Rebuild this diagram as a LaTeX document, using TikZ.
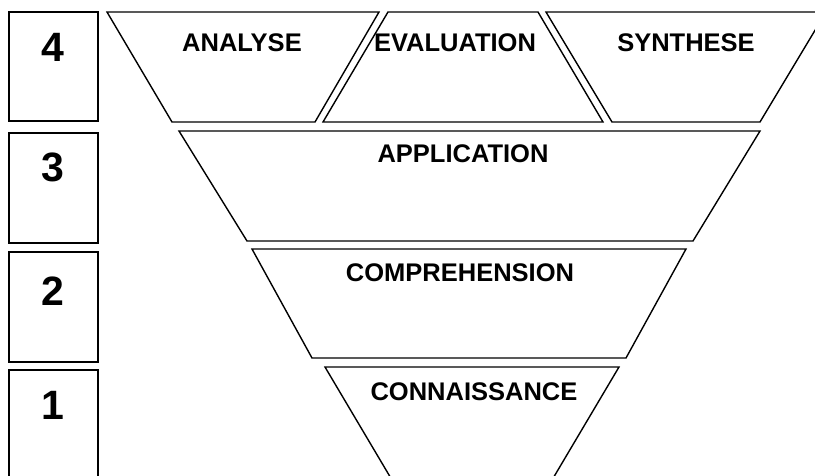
\documentclass[tikz,border=0pt]{standalone}
\usepackage{fontspec}
\setmainfont{Liberation Sans}
\usetikzlibrary{
	positioning
}
\tikzset{
	levelbox/.style={draw, line width=1.6pt},
	levelpart/.style={draw, line width=1.4pt, line join=miter},
	levelnum/.style={font=\fontsize{41}{45}\selectfont\bfseries, inner sep=0pt},
	levelname/.style={font=\fontsize{25.5}{30}\selectfont\bfseries, inner sep=0pt}
}

\begin{document}
\begin{tikzpicture}[x=1pt, y=-1pt]
	\useasboundingbox (0,0) rectangle (815,475);
	\clip (0,0) rectangle (815,475);

	% level boxes
	\draw[levelbox] (9,12) rectangle (98,121);
	\draw[levelbox] (9,133) rectangle (98,243);
	\draw[levelbox] (9,252) rectangle (98,362);
	\draw[levelbox] (9,370) rectangle (98,490);

	\node[levelnum] (n4) at (53,47) {4};
	\node[levelnum] (n3) at (53,167.5) {3};
	\node[levelnum] (n2) at (53,291) {2};
	\node[levelnum] (n1) at (53,405) {1};

	% top row
	\draw[levelpart] (107,12) -- (379,12) -- (315,122) -- (172,122) -- cycle;
	\draw[levelpart] (388,12) -- (538,12) -- (603,122) -- (323,122) -- cycle;
	\draw[levelpart] (546,12) -- (826,12) -- (760,122) -- (612,122) -- cycle;

	% lower levels
	\draw[levelpart] (179,131) -- (760,131) -- (693,241) -- (247,241) -- cycle;
	\draw[levelpart] (252,249) -- (686,249) -- (626,358) -- (312,358) -- cycle;
	\draw[levelpart] (325,367) -- (619,367) -- (472,615) -- cycle;

	\node[levelname] (analyse) at (242,42.5) {ANALYSE};
	\node[levelname] (evaluation) at (455,42.5) {EVALUATION};
	\node[levelname] (synthese) at (686,42.5) {SYNTHESE};
	\node[levelname] (application) at (463,154) {APPLICATION};
	\node[levelname] (comprehension) at (460,273) {COMPREHENSION};
	\node[levelname] (connaissance) at (474,391.7) {CONNAISSANCE};
\end{tikzpicture}
\end{document}
